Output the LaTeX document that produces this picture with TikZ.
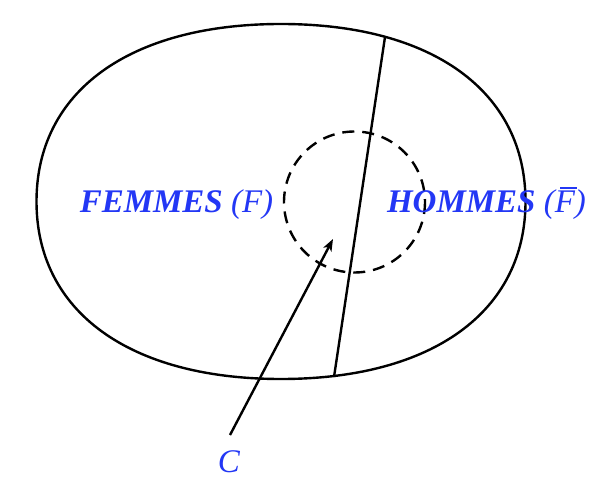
\documentclass[tikz,border=0pt]{standalone}
\usepackage{fontspec}
\setmainfont{Liberation Serif}
\usetikzlibrary{arrows.meta}
\definecolor{lblblue}{RGB}{35,55,245}
\tikzset{
  outline/.style={line width=2.4pt, black},
  dashcirc/.style={line width=2.4pt, black, dash pattern=on 12pt off 8pt},
  lbl/.style={text=lblblue, inner sep=0pt, anchor=base, font=\fontsize{33}{40}\selectfont},
  pointer/.style={line width=2.4pt, black, -{Stealth[length=12pt,width=9pt,inset=3pt]}}
}
\newcommand{\barF}{\rlap{\hspace{0.16em}\rule[0.74em]{0.5em}{0.05em}}\textit{F}}
\begin{document}
\begin{tikzpicture}[x=1pt,y=-1pt]
\useasboundingbox (0,0) rectangle (610,494);
% outer set (squarish ellipse)
\coordinate (R) at (525.5,201.5);
\coordinate (B) at (281,379);
\coordinate (L) at (36.5,201.5);
\coordinate (T) at (281,24);
\draw[outline] (R) .. controls (525.5,311.5) and (432.6,379) .. (B)
  .. controls (129.4,379) and (36.5,311.5) .. (L)
  .. controls (36.5,91.5) and (129.4,24) .. (T)
  .. controls (432.6,24) and (525.5,91.5) .. (R) -- cycle;
% dividing line
\coordinate (top) at (385,37);
\coordinate (bot) at (334,377);
\draw[outline] (top) -- (bot);
% dashed circle C
\draw[dashcirc] (354.5,202) circle[radius=70.5];
% labels
\node[lbl] (fem) at (176.5,213) {\textbf{\textit{FEMMES}} \textit{(F)}};
\node[lbl] (hom) at (486.5,213) {\textbf{\textit{HOMMES}} \textit{(\barF)}};
\node[lbl] (C) at (229,472.7) {\textit{C}};
% pointer
\coordinate (ps) at (230,435);
\coordinate (pt) at (333,239);
\draw[pointer] (ps) -- (pt);
\end{tikzpicture}
\end{document}
